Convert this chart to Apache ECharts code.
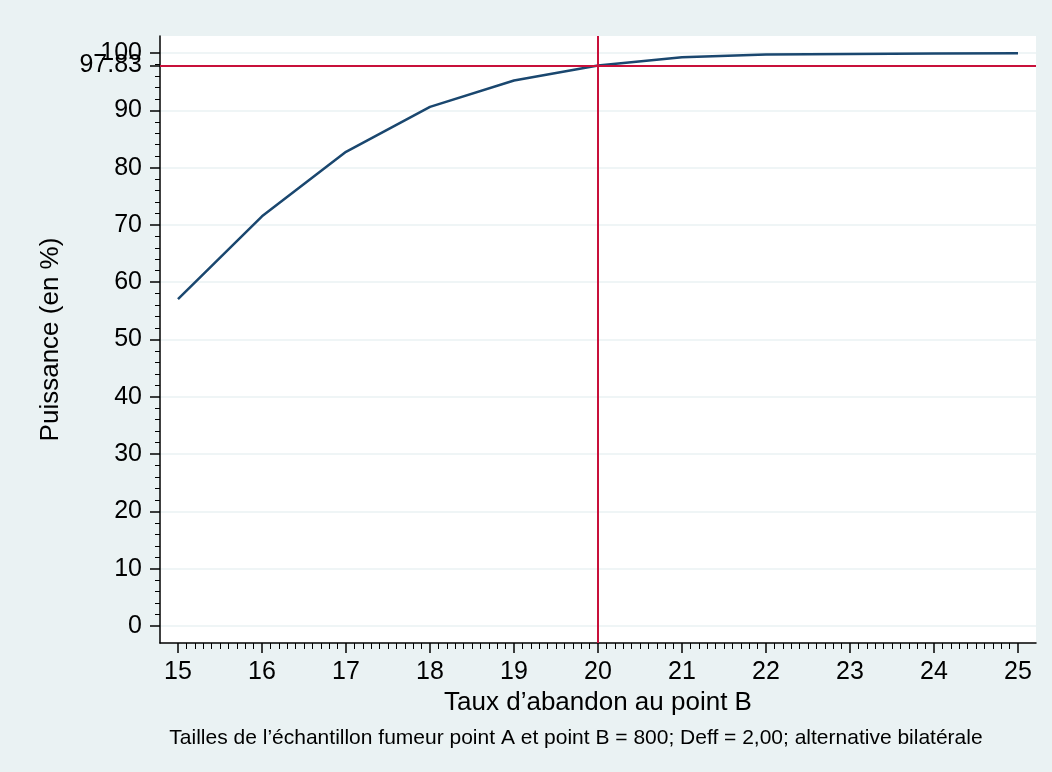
<!DOCTYPE html>
<html>
<head>
<meta charset="utf-8">
<script src="https://cdn.jsdelivr.net/npm/echarts@6/dist/echarts.min.js"></script>
<style>
  html, body { margin: 0; padding: 0; background: #EAF2F3; }
  #chart { width: 1052px; height: 772px; }
</style>
</head>
<body>
<div id="chart"></div>
<script>
// taux d'abandon au point B (%) et puissance (%)
const abandon = [15, 16, 17, 18, 19, 20, 21, 22, 23, 24, 25]
const puissance = [57.05, 71.5, 82.75, 90.6, 95.2, 97.83, 99.25, 99.75, 99.85, 99.9, 99.95]

const xTicks = [15, 16, 17, 18, 19, 20, 21, 22, 23, 24, 25]
const yTicks = [0, 10, 20, 30, 40, 50, 60, 70, 80, 90, 100]
const refX = 20
const refY = 97.83

// minor ticks: x every 0.1, y every 2
const xMinor = []
for (let i = 151; i < 250; i++) {
  if (i % 10 !== 0) xMinor.push(i / 10)
}
const yMinor = []
for (let v = 2; v < 100; v += 2) {
  if (v % 10 !== 0) yMinor.push(v)
}

const font = 'Liberation Sans, Arial, sans-serif'
const navy = '#1A476F'
const red = '#C8103A'

const chart = echarts.init(document.getElementById('chart'))

const xMin = 14.786
const xMax = 25.214
const yMin = -2.97
const yMax = 102.97

const option = {
  backgroundColor: '#EAF2F3',
  animation: false,
  textStyle: { fontFamily: font },
  grid: {
    left: 160,
    right: 16,
    top: 36,
    bottom: 129,
    show: true,
    backgroundColor: '#ffffff',
    borderWidth: 0
  },
  xAxis: [
    {
      type: 'value',
      min: xMin,
      max: xMax,
      position: 'bottom',
      name: 'Taux d\u2019abandon au point B',
      nameLocation: 'middle',
      nameGap: 44,
      nameTextStyle: { fontSize: 26, color: '#000', fontFamily: font },
      axisLine: { onZero: false, lineStyle: { color: '#000', width: 1.5 } },
      axisTick: { customValues: xTicks, length: 10, lineStyle: { color: '#000', width: 1.5 } },
      axisLabel: { customValues: xTicks, fontSize: 25, color: '#000', margin: 17, fontFamily: font },
      splitLine: { show: false }
    },
    {
      type: 'value',
      min: xMin,
      max: xMax,
      position: 'bottom',
      axisLine: { show: false, onZero: false },
      axisTick: { customValues: xMinor, length: 6, lineStyle: { color: '#000', width: 1 } },
      axisLabel: { show: false },
      splitLine: { show: false }
    }
  ],
  yAxis: [
    {
      type: 'value',
      min: yMin,
      max: yMax,
      position: 'left',
      name: 'Puissance (en %)',
      nameLocation: 'middle',
      nameGap: 96,
      nameRotate: 90,
      nameTextStyle: { fontSize: 26, color: '#000', fontFamily: font },
      axisLine: { show: true, onZero: false, lineStyle: { color: '#000', width: 1.5 } },
      axisTick: { show: true, customValues: yTicks, length: 10, lineStyle: { color: '#000', width: 1.5 } },
      axisLabel: { customValues: yTicks, fontSize: 25, color: '#000', margin: 18, fontFamily: font },
      splitLine: { show: true, lineStyle: { color: '#EAF2F3', width: 1.5 } }
    },
    {
      type: 'value',
      min: yMin,
      max: yMax,
      position: 'left',
      axisLine: { show: false, onZero: false },
      axisTick: { show: true, customValues: yMinor, length: 5, lineStyle: { color: '#000', width: 1 } },
      axisLabel: { show: false },
      splitLine: { show: false }
    },
    {
      type: 'value',
      min: yMin,
      max: yMax,
      position: 'left',
      axisLine: { show: false, onZero: false },
      axisTick: { show: true, customValues: [refY], length: 10, lineStyle: { color: '#000', width: 1.5 } },
      axisLabel: { customValues: [refY], fontSize: 25, color: '#000', margin: 18, fontFamily: font,
        formatter: v => v.toFixed(2) },
      splitLine: { show: false }
    }
  ],
  series: [
    {
      type: 'line',
      data: abandon.map((x, i) => [x, puissance[i]]),
      showSymbol: false,
      lineStyle: { color: navy, width: 2.5 },
      itemStyle: { color: navy },
      silent: true,
      z: 3,
      markLine: {
        silent: true,
        symbol: 'none',
        label: { show: false },
        lineStyle: { color: red, width: 2, type: 'solid' },
        data: [{ xAxis: refX }, { yAxis: refY }]
      }
    }
  ],
  graphic: [
    {
      type: 'text',
      x: 576,
      y: 738,
      style: {
        text: 'Tailles de l\u2019\u00e9chantillon fumeur point A et point B = 800; Deff = 2,00; alternative bilat\u00e9rale',
        font: '21px ' + font,
        fill: '#000',
        align: 'center',
        verticalAlign: 'middle'
      }
    }
  ]
}

chart.setOption(option)
</script>
</body>
</html>
